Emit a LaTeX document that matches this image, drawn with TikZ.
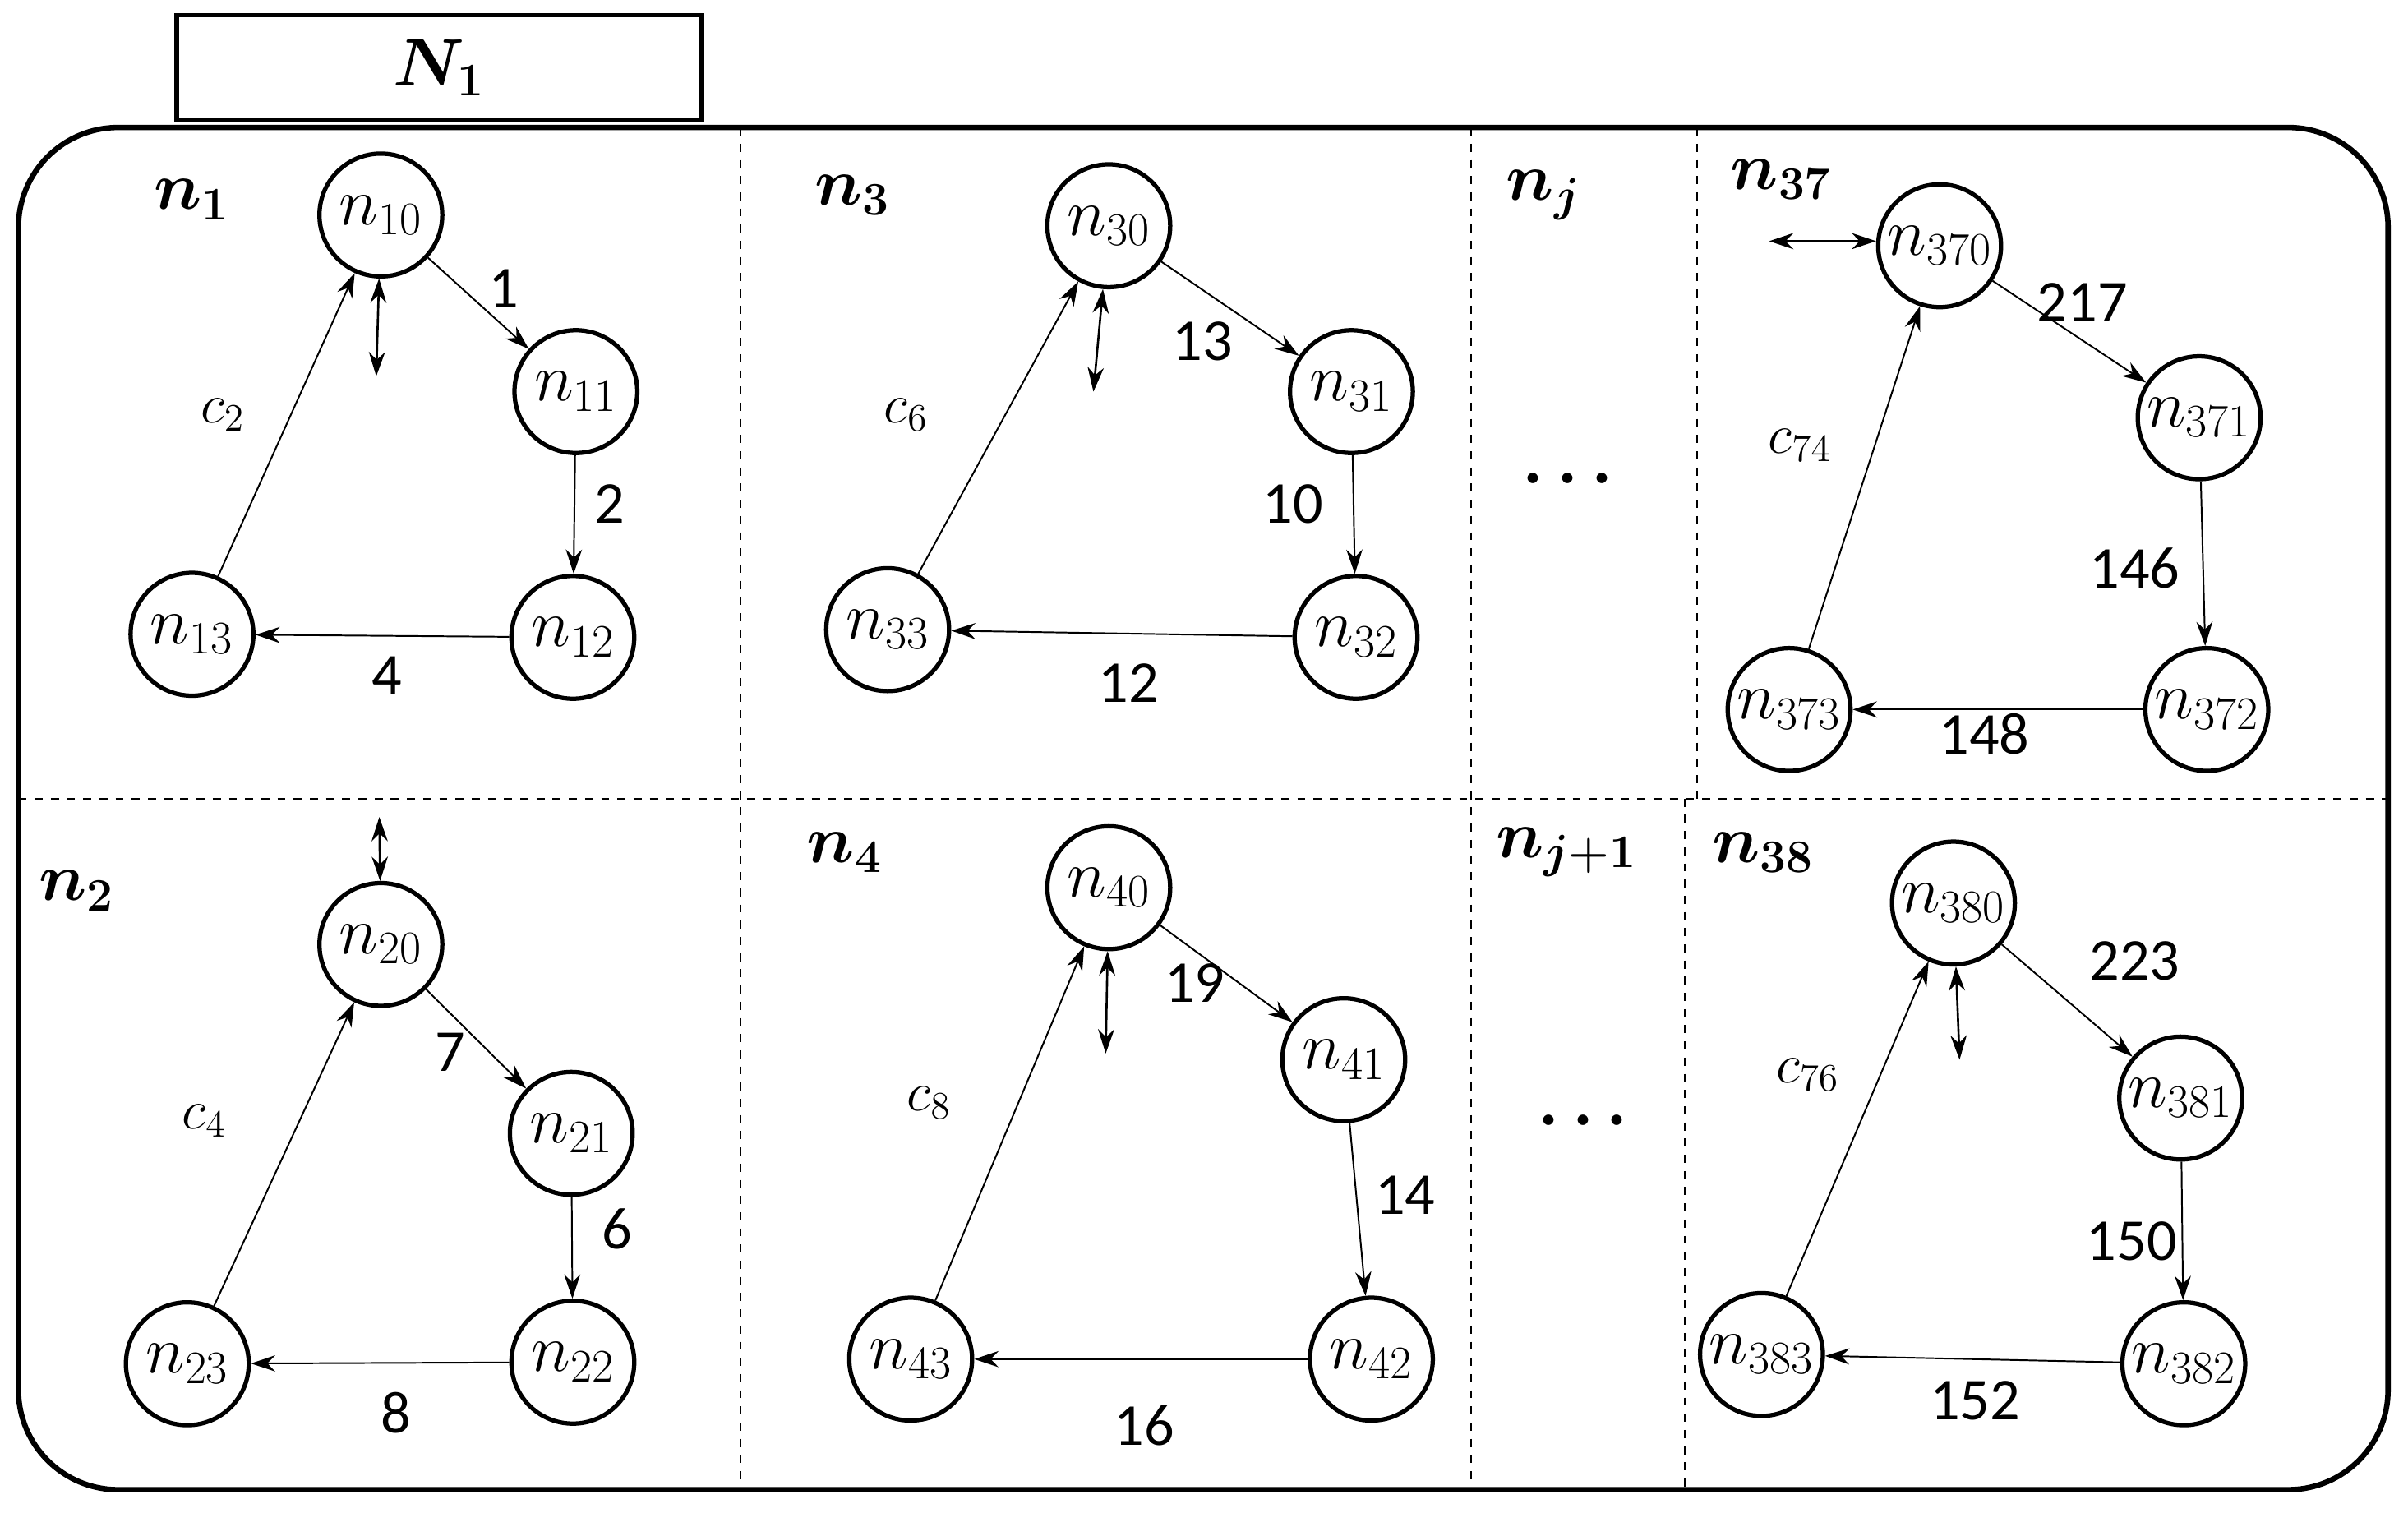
\documentclass[tikz,border=0pt]{standalone}
\usepackage{fontspec}
\setmainfont{Carlito}
\usepackage{amsmath}
\usetikzlibrary{arrows.meta}
\begin{document}
\begin{tikzpicture}[x=0.02cm,y=-0.02cm,
 c/.style={circle,draw,line width=1.6pt,minimum size=1.6cm,inner sep=0pt,font=\fontsize{26}{28}\selectfont},
 e/.style={-{Stealth[length=9pt,width=6pt]},line width=0.6pt},
 d/.style={{Stealth[length=9pt,width=6pt]}-{Stealth[length=9pt,width=6pt]},line width=0.8pt},
 l/.style={font=\fontsize{22}{24}\selectfont},
 h/.style={font=\fontsize{24}{26}\selectfont},
 dsh/.style={dashed,line width=0.6pt}]
\useasboundingbox (0,0) rectangle (1568,985);
\node[draw,line width=1.6pt,minimum width=6.84cm,minimum height=1.36cm,font=\fontsize{26}{28}\selectfont] (title) at (286,44) {$\boldsymbol{N_1}$};
\draw[line width=2pt,rounded corners=1.3cm] (12,83) rectangle (1555,970);
\draw[dsh] (482,83) -- (482,970);
\draw[dsh] (958,83) -- (958,970);
\draw[dsh] (1105,83) -- (1105,520);
\draw[dsh] (1097,520) -- (1097,970);
\draw[dsh] (12,520) -- (1555,520);
% panel 1
\node[h] at (125,130) {$\boldsymbol{n_1}$};
\node[c] (n10) at (248,140) {$n_{10}$};
\node[c] (n11) at (375,255) {$n_{11}$};
\node[c] (n12) at (373,415) {$n_{12}$};
\node[c] (n13) at (125,413) {$n_{13}$};
\draw[e] (n10) -- (n11); \draw[e] (n11) -- (n12); \draw[e] (n12) -- (n13); \draw[e] (n13) -- (n10);
\node[l] at (328,188) {1}; \node[l] at (397,328) {2}; \node[l] at (252,440) {4}; \node[l] at (145,270) {$c_2$};
\coordinate (a1) at (245,245); \draw[d] (n10) -- (a1);
% panel 2
\node[h] at (50,580) {$\boldsymbol{n_2}$};
\node[c] (n20) at (248,615) {$n_{20}$};
\node[c] (n21) at (372,738) {$n_{21}$};
\node[c] (n22) at (373,887) {$n_{22}$};
\node[c] (n23) at (122,888) {$n_{23}$};
\draw[e] (n20) -- (n21); \draw[e] (n21) -- (n22); \draw[e] (n22) -- (n23); \draw[e] (n23) -- (n20);
\node[l] at (293,685) {7}; \node[l] at (402,800) {6}; \node[l] at (258,920) {8}; \node[l] at (133,730) {$c_4$};
\coordinate (a2) at (247,532); \draw[d] (n20) -- (a2);
% panel 3
\node[h] at (555,127) {$\boldsymbol{n_3}$};
\node[c] (n30) at (722,147) {$n_{30}$};
\node[c] (n31) at (880,255) {$n_{31}$};
\node[c] (n32) at (883,415) {$n_{32}$};
\node[c] (n33) at (578,410) {$n_{33}$};
\draw[e] (n30) -- (n31); \draw[e] (n31) -- (n32); \draw[e] (n32) -- (n33); \draw[e] (n33) -- (n30);
\node[l] at (783,222) {13}; \node[l] at (842,328) {10}; \node[l] at (735,445) {12}; \node[l] at (590,270) {$c_6$};
\coordinate (a3) at (712,255); \draw[d] (n30) -- (a3);
% panel 4
\node[h] at (550,555) {$\boldsymbol{n_4}$};
\node[c] (n40) at (722,578) {$n_{40}$};
\node[c] (n41) at (875,690) {$n_{41}$};
\node[c] (n42) at (893,885) {$n_{42}$};
\node[c] (n43) at (593,885) {$n_{43}$};
\draw[e] (n40) -- (n41); \draw[e] (n41) -- (n42); \draw[e] (n42) -- (n43); \draw[e] (n43) -- (n40);
\node[l] at (778,640) {19}; \node[l] at (915,778) {14}; \node[l] at (745,928) {16}; \node[l] at (605,718) {$c_8$};
\coordinate (a4) at (720,686); \draw[d] (n40) -- (a4);
% middle
\node[h] at (1005,127) {$\boldsymbol{n_j}$};
\node[font=\fontsize{34}{36}\selectfont] at (1025,312) {$\boldsymbol{\cdots}$};
\node[h] at (1020,555) {$\boldsymbol{n_{j+1}}$};
\node[font=\fontsize{34}{36}\selectfont] at (1035,730) {$\boldsymbol{\cdots}$};
% panel 37
\node[h] at (1160,117) {$\boldsymbol{n_{37}}$};
\node[c] (n370) at (1263,160) {$n_{370}$};
\node[c] (n371) at (1432,272) {$n_{371}$};
\node[c] (n372) at (1437,462) {$n_{372}$};
\node[c] (n373) at (1165,462) {$n_{373}$};
\draw[e] (n370) -- (n371); \draw[e] (n371) -- (n372); \draw[e] (n372) -- (n373); \draw[e] (n373) -- (n370);
\node[l] at (1356,197) {217}; \node[l] at (1390,370) {146}; \node[l] at (1292,478) {148}; \node[l] at (1172,290) {$c_{74}$};
\coordinate (a5) at (1152,157); \draw[d] (n370.west |- a5) -- (a5);
% panel 38
\node[h] at (1148,555) {$\boldsymbol{n_{38}}$};
\node[c] (n380) at (1272,588) {$n_{380}$};
\node[c] (n381) at (1420,715) {$n_{381}$};
\node[c] (n382) at (1422,888) {$n_{382}$};
\node[c] (n383) at (1147,882) {$n_{383}$};
\draw[e] (n380) -- (n381); \draw[e] (n381) -- (n382); \draw[e] (n382) -- (n383); \draw[e] (n383) -- (n380);
\node[l] at (1390,626) {223}; \node[l] at (1388,808) {150}; \node[l] at (1286,912) {152}; \node[l] at (1177,700) {$c_{76}$};
\coordinate (a6) at (1276,690); \draw[d] (n380) -- (a6);
\end{tikzpicture}
\end{document}
